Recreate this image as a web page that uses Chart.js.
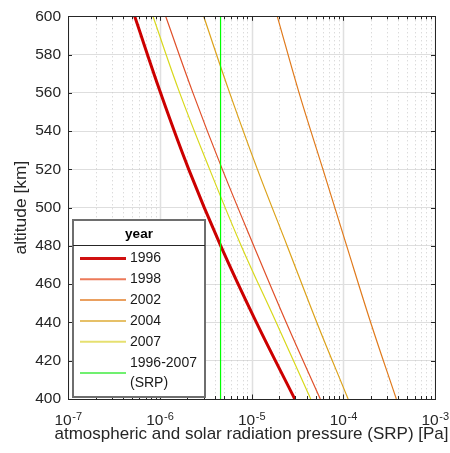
<!DOCTYPE html>
<html>
<head>
<meta charset="utf-8">
<script src="https://cdn.jsdelivr.net/npm/chart.js@4.4.1/dist/chart.umd.min.js"></script>
<style>
  html, body { margin: 0; padding: 0; background: #ffffff; }
  #wrap { width: 450px; height: 453px; position: relative; }
</style>
</head>
<body>
<div id="wrap"><canvas id="c" width="450" height="453"></canvas></div>
<script>
// ---------- data ----------
const altitudes = [400, 440, 480, 520, 560, 600];           // km
const p1996 = [2.96e-5, 1.13e-5, 4.62e-6, 2.07e-6, 1.02e-6, 5.33e-7]; // Pa
const p1998 = [5.62e-5, 2.39e-5, 1.06e-5, 4.81e-6, 2.30e-6, 1.16e-6];
const p2002 = [3.79e-4, 1.99e-4, 1.09e-4, 6.01e-5, 3.30e-5, 1.91e-5];
const p2004 = [1.13e-4, 5.15e-5, 2.45e-5, 1.16e-5, 5.78e-6, 3.01e-6];
const p2007 = [4.42e-5, 1.86e-5, 7.74e-6, 3.50e-6, 1.65e-6, 8.43e-7];
const srpAltitudes = [400, 600];
const pSRP = [4.6e-6, 4.6e-6];
const seriesLabels = ['1996', '1998', '2002', '2004', '2007', '1996-2007 (SRP)'];
const legendTitle = 'year';
const xDecadeExponents = [-7, -6, -5, -4, -3];
const yTickValues = [400, 420, 440, 460, 480, 500, 520, 540, 560, 580, 600];
const xTitle = 'atmospheric and solar radiation pressure (SRP) [Pa]';
const yTitle = 'altitude [km]';

// ---------- styles ----------
const FONT = '"Liberation Sans", Arial, Helvetica, sans-serif';
const AXIS_COLOR = '#262626';
const lineColors   = ['#cc0000', '#e0502a', '#e07a1c', '#dca21a', '#d8d81c', '#00ff00'];
const legendColors = ['#d01010', '#ec7a5a', '#eaa060', '#e6c068', '#e6e070', '#70f070'];
const lineWidths   = [3, 1.2, 1.2, 1.2, 1.2, 1.2];

function pts(xs, ys) { return ys.map((y, i) => ({ x: xs[i], y: y })); }
const seriesValues = [p1996, p1998, p2002, p2004, p2007];

const datasets = seriesValues.map((vals, i) => ({
  label: seriesLabels[i],
  data: pts(vals, altitudes),
  borderColor: lineColors[i],
  backgroundColor: lineColors[i],
  borderWidth: lineWidths[i],
  pointRadius: 0,
  fill: false,
  tension: 0.4
}));
datasets.push({
  label: seriesLabels[5],
  data: pts(pSRP, srpAltitudes),
  borderColor: lineColors[5],
  backgroundColor: lineColors[5],
  borderWidth: lineWidths[5],
  pointRadius: 0,
  fill: false
});
// draw the thick 1996 line last so it sits on top
const order = [5, 4, 3, 2, 1, 0];
datasets.forEach((d, i) => d.order = order[i]);

const axesPlugin = {
  id: 'matlabAxes',
  beforeDatasetsDraw(chart) {
    const { ctx, chartArea: a, scales: { x } } = chart;
    ctx.save();
    ctx.beginPath();
    ctx.rect(a.left, a.top, a.right - a.left, a.bottom - a.top);
    ctx.clip();
    xDecadeExponents.forEach((e) => {
      for (let m = 1; m <= 9; m++) {
        const v = m * Math.pow(10, e);
        if (v > Math.pow(10, xDecadeExponents[xDecadeExponents.length - 1]) * 1.0001) break;
        const px = Math.round(x.getPixelForValue(v)) + 0.5;
        ctx.beginPath();
        if (m === 1) {
          ctx.setLineDash([]);
          ctx.strokeStyle = '#e0e0e0';
          ctx.lineWidth = 1.5;
        } else {
          ctx.setLineDash([1, 3]);
          ctx.strokeStyle = '#cccccc';
          ctx.lineWidth = 1;
        }
        ctx.moveTo(px, a.top);
        ctx.lineTo(px, a.bottom);
        ctx.stroke();
      }
    });
    ctx.restore();
  },
  afterDatasetsDraw(chart) {
    const { ctx, chartArea: a, scales: { x, y } } = chart;
    ctx.save();
    ctx.setLineDash([]);
    ctx.strokeStyle = AXIS_COLOR;
    ctx.lineWidth = 1;
    // x ticks (inward, bottom and top)
    const lastDecade = Math.pow(10, xDecadeExponents[xDecadeExponents.length - 1]);
    xDecadeExponents.forEach((e) => {
      for (let m = 1; m <= 9; m++) {
        const v = m * Math.pow(10, e);
        if (v > lastDecade * 1.0001) break;
        const px = Math.round(x.getPixelForValue(v)) + 0.5;
        const len = m === 1 ? 4.5 : 3;
        ctx.beginPath();
        ctx.moveTo(px, a.bottom); ctx.lineTo(px, a.bottom - len);
        ctx.moveTo(px, a.top); ctx.lineTo(px, a.top + len);
        ctx.stroke();
      }
    });
    // y ticks (inward, left and right)
    yTickValues.forEach((v) => {
      const py = Math.round(y.getPixelForValue(v)) + 0.5;
      ctx.beginPath();
      ctx.moveTo(a.left, py); ctx.lineTo(a.left + 4, py);
      ctx.moveTo(a.right, py); ctx.lineTo(a.right - 4, py);
      ctx.stroke();
    });
    // box
    ctx.strokeRect(Math.round(a.left) + 0.5, Math.round(a.top) + 0.5,
                   Math.round(a.right - a.left), Math.round(a.bottom - a.top));

    // x tick labels: 10 with superscript exponent
    ctx.fillStyle = AXIS_COLOR;
    ctx.textBaseline = 'alphabetic';
    ctx.textAlign = 'left';
    xDecadeExponents.forEach((e) => {
      const px = x.getPixelForValue(Math.pow(10, e));
      ctx.font = '15.5px ' + FONT;
      const w1 = ctx.measureText('10').width;
      ctx.font = '11px ' + FONT;
      const expText = '-' + Math.abs(e);
      const w2 = ctx.measureText(expText).width;
      const start = px - (w1 + w2) / 2;
      ctx.font = '15.5px ' + FONT;
      ctx.fillText('10', start, 424.5);
      ctx.font = '11px ' + FONT;
      ctx.fillText(expText, start + w1 + 0.5, 419.5);
    });

    // x axis title (drawn here so it is not squeezed to the axis width)
    ctx.font = '17px ' + FONT;
    ctx.textAlign = 'center';
    ctx.fillText(xTitle, (a.left + a.right) / 2, 438.5);

    // legend
    const L = { left: 73, top: 220, right: 205, bottom: 397 };
    ctx.fillStyle = '#ffffff';
    ctx.fillRect(L.left, L.top, L.right - L.left, L.bottom - L.top);
    ctx.strokeStyle = '#6e6e6e';
    ctx.lineWidth = 2;
    ctx.strokeRect(L.left, L.top, L.right - L.left, L.bottom - L.top);
    ctx.lineWidth = 1;
    ctx.strokeStyle = '#262626';
    ctx.beginPath();
    ctx.moveTo(L.left, 245.5); ctx.lineTo(L.right, 245.5);
    ctx.stroke();
    ctx.fillStyle = '#000000';
    ctx.textAlign = 'center';
    ctx.textBaseline = 'middle';
    ctx.font = 'bold 13.5px ' + FONT;
    ctx.fillText(legendTitle, (L.left + L.right) / 2, 234);
    ctx.textAlign = 'left';
    ctx.font = '14px ' + FONT;
    ctx.fillStyle = '#1a1a1a';
    const rowY = [258.5, 279.3, 300.1, 320.9, 341.7, 373];
    chart.data.datasets.forEach((d, i) => {
      const yy = rowY[i];
      ctx.strokeStyle = legendColors[i];
      ctx.lineWidth = i === 0 ? 3 : 2;
      ctx.beginPath();
      ctx.moveTo(80, yy); ctx.lineTo(126, yy);
      ctx.stroke();
      const parts = d.label.split(' ');
      if (parts.length === 1) {
        ctx.fillText(d.label, 130, yy);
      } else {
        ctx.fillText(parts[0], 130, yy - 9.5);
        ctx.fillText(parts[1], 130, yy + 10.5);
      }
    });
    ctx.restore();
  }
};

new Chart(document.getElementById('c'), {
  type: 'line',
  data: { datasets: datasets },
  options: {
    responsive: false,
    animation: false,
    devicePixelRatio: 1,
    indexAxis: 'y',
    layout: { padding: { left: 0, right: 15, top: 15, bottom: 0 } },
    plugins: { legend: { display: false }, tooltip: { enabled: false } },
    scales: {
      x: {
        type: 'logarithmic',
        position: 'bottom',
        min: 1e-7,
        max: 1e-3,
        ticks: { display: false },
        grid: { display: false, drawTicks: false },
        border: { display: false },
        title: { display: false },
        afterFit: (s) => { s.height = 54; }
      },
      y: {
        type: 'linear',
        position: 'left',
        min: 400,
        max: 600,
        afterBuildTicks: (s) => { s.ticks = yTickValues.map(v => ({ value: v })); },
        ticks: {
          color: AXIS_COLOR,
          font: { family: FONT, size: 15.5 },
          padding: 7,
          autoSkip: false
        },
        grid: { color: '#dedede', lineWidth: 1, drawTicks: false },
        border: { display: false },
        title: {
          display: true,
          text: yTitle,
          color: AXIS_COLOR,
          font: { family: FONT, size: 17.4 },
          padding: { top: 11, bottom: 0 }
        },
        afterFit: (s) => { s.width = 68; }
      }
    }
  },
  plugins: [axesPlugin]
});
</script>
</body>
</html>
